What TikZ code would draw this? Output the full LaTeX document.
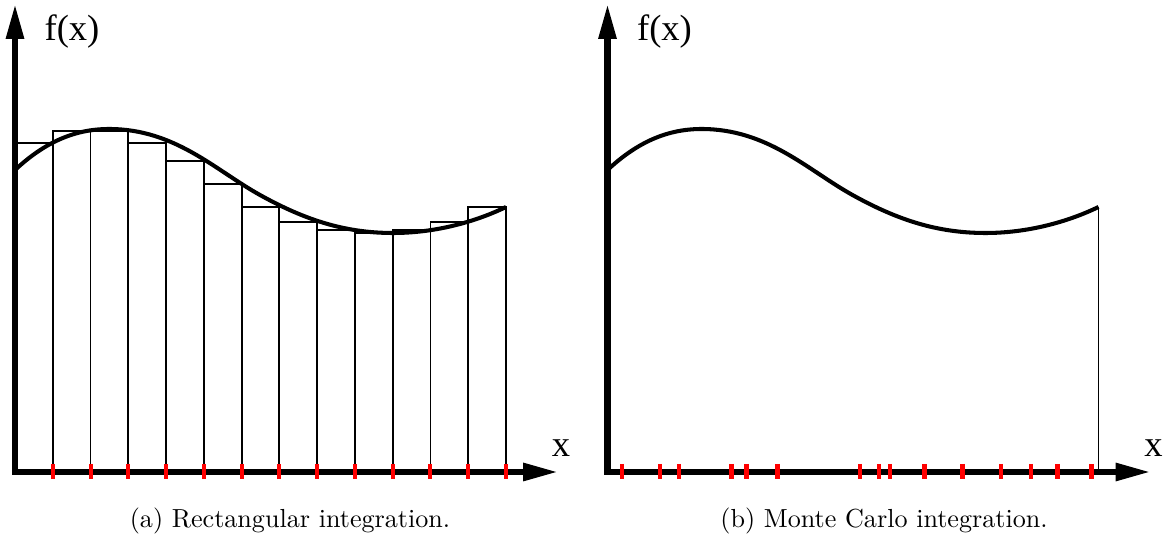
\documentclass[tikz,border=0pt]{standalone}
\usepackage{fontspec}
\newfontfamily\plotfont{Liberation Serif}
\usetikzlibrary{arrows.meta}

\tikzset{
    axis/.style={line width=2.3pt, line cap=rect, -{Triangle[length=13.4pt,width=6.5pt]}},
    bar/.style={line width=0.7pt},
    func/.style={line width=1.55pt},
    sample/.style={red, line width=1.55pt},
    axlabel/.style={font=\plotfont\fontsize{14}{16}\selectfont, inner sep=0pt},
}

\begin{document}
\begin{tikzpicture}[x=0.383pt, y=-0.383pt]
    \useasboundingbox (0,0) rectangle (1167,538);

    % rectangles (right end point rule)
    \begin{scope}[shift={(15,0)}]
    \foreach \i/\h in {1/143,2/131,3/131,4/143,5/161,6/184,7/207,8/222,9/230,10/233,11/230,12/222,13/207}
        \draw[bar] ({(\i-1)*37.77},472) rectangle ({\i*37.77},\h);
    \end{scope}

    % both panels: curve, axes end points, labels
    \foreach \dx/\p in {15/a,607.5/b} {
    \begin{scope}[shift={(\dx,0)}]
        \coordinate (O\p) at (0,472);
        \coordinate (Y\p) at (0,4);
        \coordinate (X\p) at (543,472);
        \coordinate (E\p) at (491,207);
        \node[axlabel] (fx\p) at (57,32) {f(x)};
        \node[axlabel] (x\p) at (546,448) {x};
        \draw[func] (0,170) .. controls (30,142) and (60,129) .. (94,129)
            .. controls (160,129) and (200,170) .. (245,195)
            .. controls (290,220) and (330,233) .. (378,233)
            .. controls (420,233) and (460,222) .. (E\p);
    \end{scope}
    }

    \draw[bar] (Eb) -- (Eb |- Ob);

    \draw[axis] (Oa) -- (Ya);
    \draw[axis] (Oa) -- (Xa);
    \draw[axis] (Ob) -- (Yb);
    \draw[axis] (Ob) -- (Xb);

    % sample points
    \begin{scope}[shift={(15,0)}]
    \foreach \i in {1,...,13}
        \draw[sample] ({\i*37.77},464) -- ({\i*37.77},479);
    \end{scope}
    \begin{scope}[shift={(607.5,0)}]
    \foreach \t in {14.5,52.5,71.5,124,139,170,252.5,271.5,282.8,317,355,393.5,423.5,450,484}
        \draw[sample] (\t,464) -- (\t,479);
    \end{scope}

    \node (capa) at (290,521) {(a) Rectangular integration.};
    \node (capb) at (884,521) {(b) Monte Carlo integration.};
\end{tikzpicture}
\end{document}
